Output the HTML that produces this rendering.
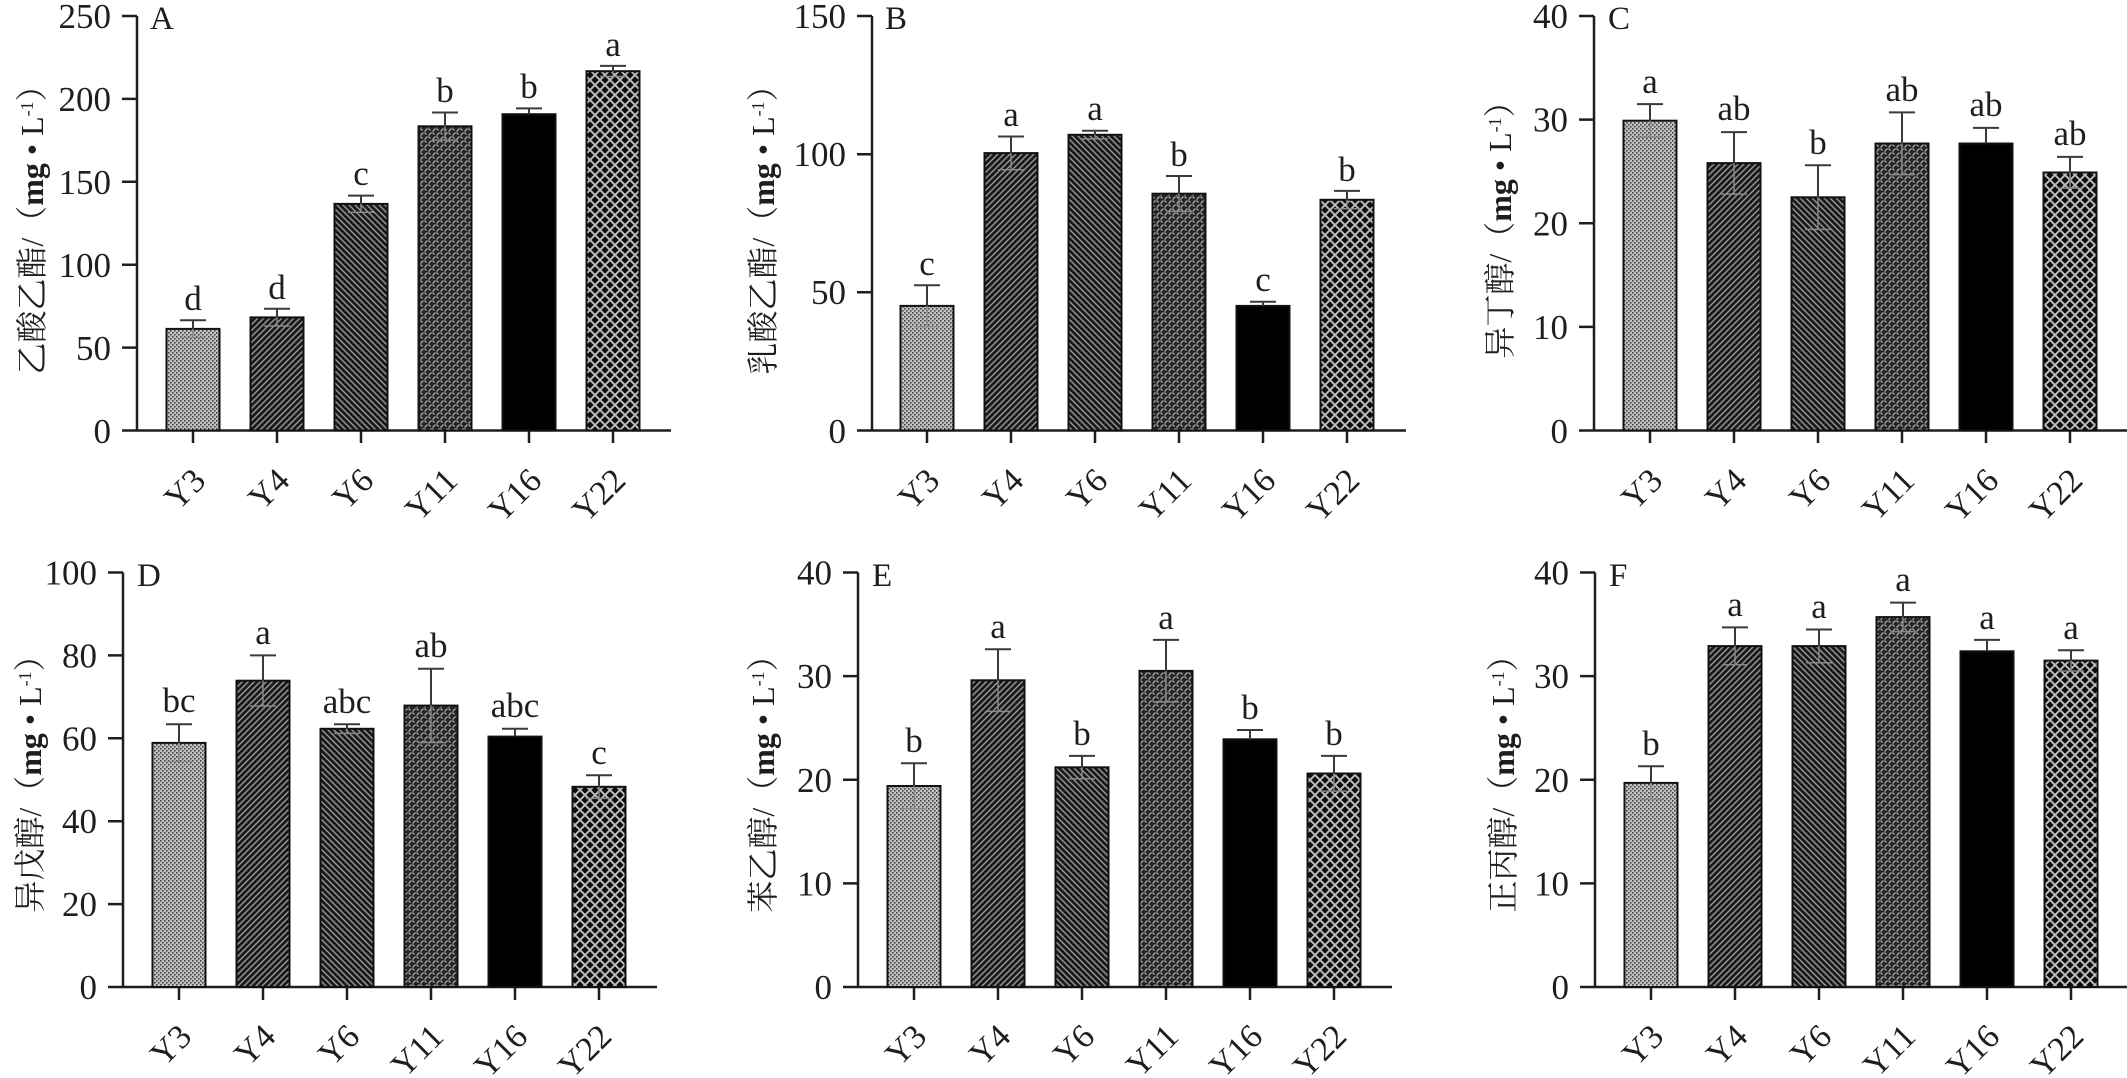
<!DOCTYPE html>
<html><head><meta charset="utf-8"><style>
html,body{margin:0;padding:0;background:#fff;}
svg{display:block;}
text{font-family:"Liberation Serif","Noto Serif CJK SC",serif;fill:#1e1e1e;}
.t{font-size:35px;}
.xl{font-size:34px;}
.lt{font-size:35px;}
.pl{font-size:33px;}
.ti{font-size:32px;}
.cjk{font-family:"Noto Serif CJK SC","Noto Sans CJK SC",serif;}
</style></head><body>
<svg width="2127" height="1078" viewBox="0 0 2127 1078" xmlns="http://www.w3.org/2000/svg">
<defs>
<pattern id="p3" patternUnits="userSpaceOnUse" width="4" height="4">
<rect width="4" height="4" fill="#c2c2c2"/>
<rect width="1.6" height="1.6" fill="#454545"/>
<rect x="2" y="2" width="1.6" height="1.6" fill="#454545"/>
</pattern>
<pattern id="p4" patternUnits="userSpaceOnUse" width="6" height="6">
<rect width="6" height="6" fill="#1a1a1a"/>
<path d="M-1,7 L7,-1 M-1,1 L1,-1 M5,7 L7,5" stroke="#9a9a9a" stroke-width="1.4"/>
</pattern>
<pattern id="p6" patternUnits="userSpaceOnUse" width="6" height="6">
<rect width="6" height="6" fill="#1a1a1a"/>
<path d="M-1,-1 L7,7 M5,-1 L7,1 M-1,5 L1,7" stroke="#9a9a9a" stroke-width="1.4"/>
</pattern>
<pattern id="p11" patternUnits="userSpaceOnUse" width="8" height="8">
<rect width="8" height="8" fill="#242424"/>
<path d="M0.5,3.5 L3.5,0.5 M4.5,7.5 L7.5,4.5 M4.5,0.5 L6.5,2.5 M0.5,4.5 L2.5,6.5" stroke="#a5a5a5" stroke-width="1.4"/>
</pattern>
<pattern id="p22" patternUnits="userSpaceOnUse" width="10" height="10">
<rect width="10" height="10" fill="#0c0c0c"/>
<path d="M0,0 L10,10 M10,0 L0,10" stroke="#bdbdbd" stroke-width="1.9"/>
</pattern>
</defs>

<!-- ================= PANEL A ================= -->
<g>
<g stroke="#1e1e1e" stroke-width="2.5" fill="none">
<path d="M137,16 L137,430.5 M122,430.5 L671,430.5"/>
<path d="M122,16 H137 M122,98.9 H137 M122,181.8 H137 M122,264.7 H137 M122,347.6 H137"/>
<path d="M193,430.5 V443 M277,430.5 V443 M361,430.5 V443 M445,430.5 V443 M529,430.5 V443 M613,430.5 V443"/>
</g>
<g class="t" text-anchor="end">
<text x="111" y="28">250</text><text x="111" y="111">200</text><text x="111" y="194">150</text>
<text x="111" y="277">100</text><text x="111" y="360">50</text><text x="111" y="443">0</text>
</g>
<text class="pl" x="150" y="29">A</text>
<g stroke="#111" stroke-width="2">
<rect x="166.5" y="328.9" width="53" height="101.6" fill="url(#p3)"/>
<rect x="250.5" y="317.4" width="53" height="113.1" fill="url(#p4)"/>
<rect x="334.5" y="203.9" width="53" height="226.6" fill="url(#p6)"/>
<rect x="418.5" y="126.3" width="53" height="304.2" fill="url(#p11)"/>
<rect x="502.5" y="114.2" width="53" height="316.3" fill="#000"/>
<rect x="586.5" y="71.2" width="53" height="359.3" fill="url(#p22)"/>
</g>
<g stroke="#888" stroke-width="1.5">
<path d="M193,328.9 V337.6 M180,337.6 H206 M277,317.4 V326 M264,326 H290 M361,203.9 V212.2 M348,212.2 H374 M445,126.3 V140.1 M432,140.1 H458 M613,71.2 V76.5 M600,76.5 H626"/>
</g>
<g stroke="#3a3a3a" stroke-width="2">
<path d="M193,328.9 V320.2 M180,320.2 H206 M277,317.4 V308.8 M264,308.8 H290 M361,203.9 V195.6 M348,195.6 H374 M445,126.3 V112.5 M432,112.5 H458 M529,114.2 V108.4 M516,108.4 H542 M613,71.2 V65.9 M600,65.9 H626"/>
</g>
<g class="lt" text-anchor="middle">
<text x="193" y="310">d</text><text x="277" y="299">d</text><text x="361" y="185">c</text>
<text x="445" y="102">b</text><text x="529" y="98">b</text><text x="613" y="56">a</text>
</g>
<g class="xl" text-anchor="end">
<text transform="translate(199,474) rotate(-45)" dy=".35em">Y3</text>
<text transform="translate(283,474) rotate(-45)" dy=".35em">Y4</text>
<text transform="translate(367,474) rotate(-45)" dy=".35em">Y6</text>
<text transform="translate(451,474) rotate(-45)" dy=".35em">Y11</text>
<text transform="translate(535,474) rotate(-45)" dy=".35em">Y16</text>
<text transform="translate(619,474) rotate(-45)" dy=".35em">Y22</text>
</g>
<text class="ti" transform="translate(32,222) rotate(-90)" text-anchor="middle" dy=".35em"><tspan class="cjk">乙酸乙酯</tspan>/<tspan class="cjk">（</tspan><tspan font-weight="bold">mg</tspan> • L<tspan baseline-shift="super" font-size="18">-1</tspan><tspan class="cjk">）</tspan></text>
</g>

<!-- ================= PANEL B ================= -->
<g>
<g stroke="#1e1e1e" stroke-width="2.5" fill="none">
<path d="M872,16 L872,430.5 M857,430.5 L1406,430.5"/>
<path d="M857,16 H872 M857,154.2 H872 M857,292.3 H872"/>
<path d="M927,430.5 V443 M1011,430.5 V443 M1095,430.5 V443 M1179,430.5 V443 M1263,430.5 V443 M1347,430.5 V443"/>
</g>
<g class="t" text-anchor="end">
<text x="846" y="28">150</text><text x="846" y="166">100</text><text x="846" y="304">50</text><text x="846" y="443">0</text>
</g>
<text class="pl" x="885" y="29">B</text>
<g stroke="#111" stroke-width="2">
<rect x="900.5" y="305.9" width="53" height="124.6" fill="url(#p3)"/>
<rect x="984.5" y="153.1" width="53" height="277.4" fill="url(#p4)"/>
<rect x="1068.5" y="134.8" width="53" height="295.7" fill="url(#p6)"/>
<rect x="1152.5" y="193.7" width="53" height="236.8" fill="url(#p11)"/>
<rect x="1236.5" y="305.9" width="53" height="124.6" fill="#000"/>
<rect x="1320.5" y="199.8" width="53" height="230.7" fill="url(#p22)"/>
</g>
<g stroke="#888" stroke-width="1.5">
<path d="M927,305.9 V326.6 M914,326.6 H940 M1011,153.1 V169.7 M998,169.7 H1024 M1095,134.8 V138.9 M1082,138.9 H1108 M1179,193.7 V211.4 M1166,211.4 H1192 M1347,199.8 V208.7 M1334,208.7 H1360"/>
</g>
<g stroke="#3a3a3a" stroke-width="2">
<path d="M927,305.9 V285.2 M914,285.2 H940 M1011,153.1 V136.5 M998,136.5 H1024 M1095,134.8 V130.7 M1082,130.7 H1108 M1179,193.7 V176 M1166,176 H1192 M1263,305.9 V301.7 M1250,301.7 H1276 M1347,199.8 V190.9 M1334,190.9 H1360"/>
</g>
<g class="lt" text-anchor="middle">
<text x="927" y="275">c</text><text x="1011" y="126">a</text><text x="1095" y="120">a</text>
<text x="1179" y="166">b</text><text x="1263" y="291">c</text><text x="1347" y="181">b</text>
</g>
<g class="xl" text-anchor="end">
<text transform="translate(933,474) rotate(-45)" dy=".35em">Y3</text>
<text transform="translate(1017,474) rotate(-45)" dy=".35em">Y4</text>
<text transform="translate(1101,474) rotate(-45)" dy=".35em">Y6</text>
<text transform="translate(1185,474) rotate(-45)" dy=".35em">Y11</text>
<text transform="translate(1269,474) rotate(-45)" dy=".35em">Y16</text>
<text transform="translate(1353,474) rotate(-45)" dy=".35em">Y22</text>
</g>
<text class="ti" transform="translate(763,222) rotate(-90)" text-anchor="middle" dy=".35em"><tspan class="cjk">乳酸乙酯</tspan>/<tspan class="cjk">（</tspan><tspan font-weight="bold">mg</tspan> • L<tspan baseline-shift="super" font-size="18">-1</tspan><tspan class="cjk">）</tspan></text>
</g>

<!-- ================= PANEL C ================= -->
<g>
<g stroke="#1e1e1e" stroke-width="2.5" fill="none">
<path d="M1594,16 L1594,430.5 M1579,430.5 L2127,430.5"/>
<path d="M1579,16 H1594 M1579,119.6 H1594 M1579,223.25 H1594 M1579,326.9 H1594"/>
<path d="M1650,430.5 V443 M1734,430.5 V443 M1818,430.5 V443 M1902,430.5 V443 M1986,430.5 V443 M2070,430.5 V443"/>
</g>
<g class="t" text-anchor="end">
<text x="1568" y="28">40</text><text x="1568" y="131.6">30</text><text x="1568" y="235.3">20</text><text x="1568" y="339">10</text><text x="1568" y="443">0</text>
</g>
<text class="pl" x="1608" y="29">C</text>
<g stroke="#111" stroke-width="2">
<rect x="1623.5" y="120.7" width="53" height="309.8" fill="url(#p3)"/>
<rect x="1707.5" y="163.1" width="53" height="267.4" fill="url(#p4)"/>
<rect x="1791.5" y="197.3" width="53" height="233.2" fill="url(#p6)"/>
<rect x="1875.5" y="143.5" width="53" height="287" fill="url(#p11)"/>
<rect x="1959.5" y="143.5" width="53" height="287" fill="#000"/>
<rect x="2043.5" y="172.5" width="53" height="258" fill="url(#p22)"/>
</g>
<g stroke="#888" stroke-width="1.5">
<path d="M1650,120.7 V137.3 M1637,137.3 H1663 M1734,163.1 V194.1 M1721,194.1 H1747 M1818,197.3 V229.4 M1805,229.4 H1831 M1902,143.5 V174.6 M1889,174.6 H1915 M2070,172.5 V188.1 M2057,188.1 H2083"/>
</g>
<g stroke="#3a3a3a" stroke-width="2">
<path d="M1650,120.7 V104.1 M1637,104.1 H1663 M1734,163.1 V132.1 M1721,132.1 H1747 M1818,197.3 V165.2 M1805,165.2 H1831 M1902,143.5 V112.4 M1889,112.4 H1915 M1986,143.5 V127.9 M1973,127.9 H1999 M2070,172.5 V156.9 M2057,156.9 H2083"/>
</g>
<g class="lt" text-anchor="middle">
<text x="1650" y="93">a</text><text x="1734" y="120">ab</text><text x="1818" y="154">b</text>
<text x="1902" y="101">ab</text><text x="1986" y="116">ab</text><text x="2070" y="145">ab</text>
</g>
<g class="xl" text-anchor="end">
<text transform="translate(1656,474) rotate(-45)" dy=".35em">Y3</text>
<text transform="translate(1740,474) rotate(-45)" dy=".35em">Y4</text>
<text transform="translate(1824,474) rotate(-45)" dy=".35em">Y6</text>
<text transform="translate(1908,474) rotate(-45)" dy=".35em">Y11</text>
<text transform="translate(1992,474) rotate(-45)" dy=".35em">Y16</text>
<text transform="translate(2076,474) rotate(-45)" dy=".35em">Y22</text>
</g>
<text class="ti" transform="translate(1500,222) rotate(-90)" text-anchor="middle" dy=".35em"><tspan class="cjk">异丁醇</tspan>/<tspan class="cjk">（</tspan><tspan font-weight="bold">mg</tspan> • L<tspan baseline-shift="super" font-size="18">-1</tspan><tspan class="cjk">）</tspan></text>
</g>

<!-- ================= PANEL D ================= -->
<g>
<g stroke="#1e1e1e" stroke-width="2.5" fill="none">
<path d="M123,572.5 L123,987 M108,987 L657,987"/>
<path d="M108,572.5 H123 M108,655.4 H123 M108,738.3 H123 M108,821.2 H123 M108,904.1 H123"/>
<path d="M179,987 V1000 M263,987 V1000 M347,987 V1000 M431,987 V1000 M515,987 V1000 M599,987 V1000"/>
</g>
<g class="t" text-anchor="end">
<text x="97" y="584.5">100</text><text x="97" y="667.4">80</text><text x="97" y="750.3">60</text>
<text x="97" y="833.2">40</text><text x="97" y="916.1">20</text><text x="97" y="999">0</text>
</g>
<text class="pl" x="137" y="586">D</text>
<g stroke="#111" stroke-width="2">
<rect x="152.5" y="742.9" width="53" height="244.1" fill="url(#p3)"/>
<rect x="236.5" y="680.7" width="53" height="306.3" fill="url(#p4)"/>
<rect x="320.5" y="728.8" width="53" height="258.2" fill="url(#p6)"/>
<rect x="404.5" y="705.6" width="53" height="281.4" fill="url(#p11)"/>
<rect x="488.5" y="736.6" width="53" height="250.4" fill="#000"/>
<rect x="572.5" y="786.8" width="53" height="200.2" fill="url(#p22)"/>
</g>
<g stroke="#888" stroke-width="1.5">
<path d="M179,742.9 V761.6 M166,761.6 H192 M263,680.7 V706 M250,706 H276 M347,728.8 V733.4 M334,733.4 H360 M431,705.6 V742.5 M418,742.5 H444 M599,786.8 V798.4 M586,798.4 H612"/>
</g>
<g stroke="#3a3a3a" stroke-width="2">
<path d="M179,742.9 V724.2 M166,724.2 H192 M263,680.7 V655.4 M250,655.4 H276 M347,728.8 V724.2 M334,724.2 H360 M431,705.6 V668.7 M418,668.7 H444 M515,736.6 V728.8 M502,728.8 H528 M599,786.8 V775.2 M586,775.2 H612"/>
</g>
<g class="lt" text-anchor="middle">
<text x="179" y="712">bc</text><text x="263" y="644">a</text><text x="347" y="713">abc</text>
<text x="431" y="657">ab</text><text x="515" y="717">abc</text><text x="599" y="764">c</text>
</g>
<g class="xl" text-anchor="end">
<text transform="translate(185,1030) rotate(-45)" dy=".35em">Y3</text>
<text transform="translate(269,1030) rotate(-45)" dy=".35em">Y4</text>
<text transform="translate(353,1030) rotate(-45)" dy=".35em">Y6</text>
<text transform="translate(437,1030) rotate(-45)" dy=".35em">Y11</text>
<text transform="translate(521,1030) rotate(-45)" dy=".35em">Y16</text>
<text transform="translate(605,1030) rotate(-45)" dy=".35em">Y22</text>
</g>
<text class="ti" transform="translate(30,776) rotate(-90)" text-anchor="middle" dy=".35em"><tspan class="cjk">异戊醇</tspan>/<tspan class="cjk">（</tspan><tspan font-weight="bold">mg</tspan> • L<tspan baseline-shift="super" font-size="18">-1</tspan><tspan class="cjk">）</tspan></text>
</g>

<!-- ================= PANEL E ================= -->
<g>
<g stroke="#1e1e1e" stroke-width="2.5" fill="none">
<path d="M858,572.5 L858,987 M843,987 L1392,987"/>
<path d="M843,572.5 H858 M843,676.1 H858 M843,779.75 H858 M843,883.4 H858"/>
<path d="M914,987 V1000 M998,987 V1000 M1082,987 V1000 M1166,987 V1000 M1250,987 V1000 M1334,987 V1000"/>
</g>
<g class="t" text-anchor="end">
<text x="832" y="584.5">40</text><text x="832" y="688.1">30</text><text x="832" y="791.8">20</text><text x="832" y="895.4">10</text><text x="832" y="999">0</text>
</g>
<text class="pl" x="872" y="586">E</text>
<g stroke="#111" stroke-width="2">
<rect x="887.5" y="786" width="53" height="201" fill="url(#p3)"/>
<rect x="971.5" y="680.3" width="53" height="306.7" fill="url(#p4)"/>
<rect x="1055.5" y="767.3" width="53" height="219.7" fill="url(#p6)"/>
<rect x="1139.5" y="670.9" width="53" height="316.1" fill="url(#p11)"/>
<rect x="1223.5" y="739.3" width="53" height="247.7" fill="#000"/>
<rect x="1307.5" y="773.5" width="53" height="213.5" fill="url(#p22)"/>
</g>
<g stroke="#888" stroke-width="1.5">
<path d="M914,786 V808.8 M901,808.8 H927 M998,680.3 V711.4 M985,711.4 H1011 M1082,767.3 V778.7 M1069,778.7 H1095 M1166,670.9 V701.9 M1153,701.9 H1179 M1334,773.5 V791.1 M1321,791.1 H1347"/>
</g>
<g stroke="#3a3a3a" stroke-width="2">
<path d="M914,786 V763.2 M901,763.2 H927 M998,680.3 V649.2 M985,649.2 H1011 M1082,767.3 V755.9 M1069,755.9 H1095 M1166,670.9 V639.9 M1153,639.9 H1179 M1250,739.3 V730 M1237,730 H1263 M1334,773.5 V755.9 M1321,755.9 H1347"/>
</g>
<g class="lt" text-anchor="middle">
<text x="914" y="752">b</text><text x="998" y="638">a</text><text x="1082" y="745">b</text>
<text x="1166" y="629">a</text><text x="1250" y="719">b</text><text x="1334" y="745">b</text>
</g>
<g class="xl" text-anchor="end">
<text transform="translate(920,1030) rotate(-45)" dy=".35em">Y3</text>
<text transform="translate(1004,1030) rotate(-45)" dy=".35em">Y4</text>
<text transform="translate(1088,1030) rotate(-45)" dy=".35em">Y6</text>
<text transform="translate(1172,1030) rotate(-45)" dy=".35em">Y11</text>
<text transform="translate(1256,1030) rotate(-45)" dy=".35em">Y16</text>
<text transform="translate(1340,1030) rotate(-45)" dy=".35em">Y22</text>
</g>
<text class="ti" transform="translate(763,776) rotate(-90)" text-anchor="middle" dy=".35em"><tspan class="cjk">苯乙醇</tspan>/<tspan class="cjk">（</tspan><tspan font-weight="bold">mg</tspan> • L<tspan baseline-shift="super" font-size="18">-1</tspan><tspan class="cjk">）</tspan></text>
</g>

<!-- ================= PANEL F ================= -->
<g>
<g stroke="#1e1e1e" stroke-width="2.5" fill="none">
<path d="M1595,572.5 L1595,987 M1580,987 L2127,987"/>
<path d="M1580,572.5 H1595 M1580,676.1 H1595 M1580,779.75 H1595 M1580,883.4 H1595"/>
<path d="M1651,987 V1000 M1735,987 V1000 M1819,987 V1000 M1903,987 V1000 M1987,987 V1000 M2071,987 V1000"/>
</g>
<g class="t" text-anchor="end">
<text x="1569" y="584.5">40</text><text x="1569" y="688.1">30</text><text x="1569" y="791.8">20</text><text x="1569" y="895.4">10</text><text x="1569" y="999">0</text>
</g>
<text class="pl" x="1609" y="586">F</text>
<g stroke="#111" stroke-width="2">
<rect x="1624.5" y="782.9" width="53" height="204.1" fill="url(#p3)"/>
<rect x="1708.5" y="646.1" width="53" height="340.9" fill="url(#p4)"/>
<rect x="1792.5" y="646.1" width="53" height="340.9" fill="url(#p6)"/>
<rect x="1876.5" y="617.1" width="53" height="369.9" fill="url(#p11)"/>
<rect x="1960.5" y="651.3" width="53" height="335.7" fill="#000"/>
<rect x="2044.5" y="660.6" width="53" height="326.4" fill="url(#p22)"/>
</g>
<g stroke="#888" stroke-width="1.5">
<path d="M1651,782.9 V799.5 M1638,799.5 H1664 M1735,646.1 V664.8 M1722,664.8 H1748 M1819,646.1 V662.7 M1806,662.7 H1832 M1903,617.1 V631.6 M1890,631.6 H1916 M2071,660.6 V671 M2058,671 H2084"/>
</g>
<g stroke="#3a3a3a" stroke-width="2">
<path d="M1651,782.9 V766.3 M1638,766.3 H1664 M1735,646.1 V627.4 M1722,627.4 H1748 M1819,646.1 V629.5 M1806,629.5 H1832 M1903,617.1 V602.6 M1890,602.6 H1916 M1987,651.3 V639.9 M1974,639.9 H2000 M2071,660.6 V650.2 M2058,650.2 H2084"/>
</g>
<g class="lt" text-anchor="middle">
<text x="1651" y="755">b</text><text x="1735" y="616">a</text><text x="1819" y="618">a</text>
<text x="1903" y="591">a</text><text x="1987" y="629">a</text><text x="2071" y="639">a</text>
</g>
<g class="xl" text-anchor="end">
<text transform="translate(1657,1030) rotate(-45)" dy=".35em">Y3</text>
<text transform="translate(1741,1030) rotate(-45)" dy=".35em">Y4</text>
<text transform="translate(1825,1030) rotate(-45)" dy=".35em">Y6</text>
<text transform="translate(1909,1030) rotate(-45)" dy=".35em">Y11</text>
<text transform="translate(1993,1030) rotate(-45)" dy=".35em">Y16</text>
<text transform="translate(2077,1030) rotate(-45)" dy=".35em">Y22</text>
</g>
<text class="ti" transform="translate(1503,776) rotate(-90)" text-anchor="middle" dy=".35em"><tspan class="cjk">正丙醇</tspan>/<tspan class="cjk">（</tspan><tspan font-weight="bold">mg</tspan> • L<tspan baseline-shift="super" font-size="18">-1</tspan><tspan class="cjk">）</tspan></text>
</g>
</svg>
</body></html>
